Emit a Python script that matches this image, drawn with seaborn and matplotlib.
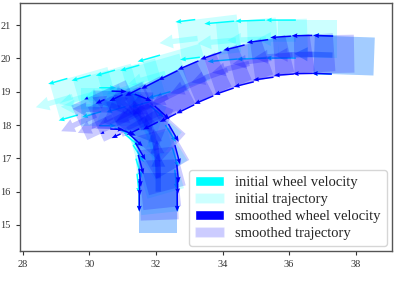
import numpy as np
import matplotlib
matplotlib.use("Agg")
import matplotlib.pyplot as plt
from matplotlib.patches import Rectangle, Patch
import seaborn as sns

# ---------------- data ----------------
# initial trajectory poses: reference x, y, heading (deg), left / right wheel velocity
init_x = [37.30, 36.20, 35.30, 34.40, 33.25, 32.28, 31.66, 30.93, 30.20, 29.50,
          30.30, 30.95, 31.45, 31.80, 31.95, 32.00, 32.07]
init_y = [20.10, 20.58, 20.58, 20.55, 20.60, 19.55, 19.25, 19.10, 18.95, 18.85,
          18.55, 18.45, 18.15, 17.70, 17.15, 16.60, 16.00]
init_h = [178, 180, 182, 185, 187, 196, 196, 196, 196, 196,
          180, 160, 140, 122, 106, 96, 90]
init_vl = [0.60, 0.90, 0.90, 0.90, 0.60, 0.70, 0.60, 0.60, 0.60, 0.60,
           -0.50, -0.50, -0.55, -0.60, -0.60, -0.60, -0.60]
init_vr = [0.60, 0.90, 0.90, 0.90, 0.60, 0.70, 0.60, 0.60, 0.60, 0.60,
           -0.50, -0.50, -0.55, -0.60, -0.60, -0.60, -0.60]

# smoothed trajectory poses
smooth_x = [37.30, 36.70, 36.10, 35.45, 34.80, 34.15, 33.50, 32.90, 32.35, 31.80,
            31.25, 30.70, 30.20, 30.65, 31.15, 31.58, 31.88, 32.02, 32.06, 32.07, 32.07]
smooth_y = [20.10, 20.12, 20.10, 20.00, 19.85, 19.65, 19.40, 19.12, 18.85, 18.60,
            18.40, 18.25, 18.30, 18.45, 18.40, 18.15, 17.75, 17.25, 16.75, 16.40, 16.00]
smooth_h = [178, 181, 184, 188, 194, 199, 203, 206, 207, 207,
            206, 205, 205, 178, 158, 138, 120, 105, 96, 92, 90]
smooth_vl = [0.60, 0.60, 0.60, 0.62, 0.62, 0.62, 0.62, 0.60, 0.55, 0.50,
             0.42, 0.30, 0.12, -0.40, -0.50, -0.55, -0.60, -0.60, -0.55, -0.50, -0.60]
smooth_vr = [0.60, 0.62, 0.63, 0.65, 0.66, 0.67, 0.68, 0.65, 0.60, 0.52,
             0.44, 0.30, 0.12, -0.45, -0.55, -0.60, -0.62, -0.60, -0.55, -0.50, -0.60]

legend_labels = ["initial wheel velocity", "initial trajectory",
                 "smoothed wheel velocity", "smoothed trajectory"]

L_FRONT, L_REAR, VEH_W = 0.55, 1.25, 1.14
HEAD_LEN = 1.15

# ---------------- style ----------------
sns.set_style("ticks")
plt.rcParams["font.family"] = ["Liberation Serif", "DejaVu Serif"]
plt.rcParams["axes.edgecolor"] = "#555555"
plt.rcParams["axes.linewidth"] = 1.0

fig = plt.figure(figsize=(3.99, 2.82), dpi=100)
ax = fig.add_axes([0.050, 0.110, 0.932, 0.879])


def draw(xs, ys, hs, vl, vr, color, zbase):
    xs = np.asarray(xs); ys = np.asarray(ys)
    th = np.radians(hs)
    fx, fy = np.cos(th), np.sin(th)
    nx, ny = -np.sin(th), np.cos(th)
    for cx, cy, h, ux, uy, px, py in zip(xs, ys, hs, fx, fy, nx, ny):
        # corner: rear-right of the vehicle body
        x0 = cx - L_REAR * ux - VEH_W / 2 * px
        y0 = cy - L_REAR * uy - VEH_W / 2 * py
        ax.add_patch(Rectangle((x0, y0), L_FRONT + L_REAR, VEH_W, angle=h,
                               facecolor=color, alpha=0.2, edgecolor="none",
                               zorder=zbase))
    for cx, cy, ux, uy in zip(xs, ys, fx, fy):
        ax.arrow(cx, cy, HEAD_LEN * ux, HEAD_LEN * uy,
                 width=0.16, head_width=0.42, head_length=0.40,
                 length_includes_head=True, facecolor=color, edgecolor="none",
                 alpha=0.22, zorder=zbase + 0.5)
    wx = np.concatenate([xs + VEH_W / 2 * nx, xs - VEH_W / 2 * nx])
    wy = np.concatenate([ys + VEH_W / 2 * ny, ys - VEH_W / 2 * ny])
    v = np.concatenate([np.asarray(vl), np.asarray(vr)])
    t2 = np.concatenate([th, th])
    ax.quiver(wx, wy, v * np.cos(t2), v * np.sin(t2), color=color,
              angles="xy", scale_units="xy", scale=1, width=0.004,
              headwidth=3.2, headlength=4.0, headaxislength=3.6,
              zorder=zbase + 1)


draw(init_x, init_y, init_h, init_vl, init_vr, "cyan", 2)
draw(smooth_x, smooth_y, smooth_h, smooth_vl, smooth_vr, "blue", 5)

ax.set_xlim(27.92, 39.08)
ax.set_ylim(14.22, 21.66)
ax.set_aspect("equal")
ax.set_xticks([28, 30, 32, 34, 36, 38])
ax.set_yticks([15, 16, 17, 18, 19, 20, 21])
ax.tick_params(labelsize=7.5, length=3, width=0.8, colors="#333333")

handles = [Patch(facecolor="cyan"), Patch(facecolor="cyan", alpha=0.2),
           Patch(facecolor="blue"), Patch(facecolor="blue", alpha=0.2)]
ax.legend(handles, legend_labels, loc="lower right", fontsize=10.5,
          frameon=True, borderaxespad=0.35, handlelength=2.0,
          labelspacing=0.25, handletextpad=0.8, borderpad=0.4)

fig.savefig("out.png", dpi=100)
